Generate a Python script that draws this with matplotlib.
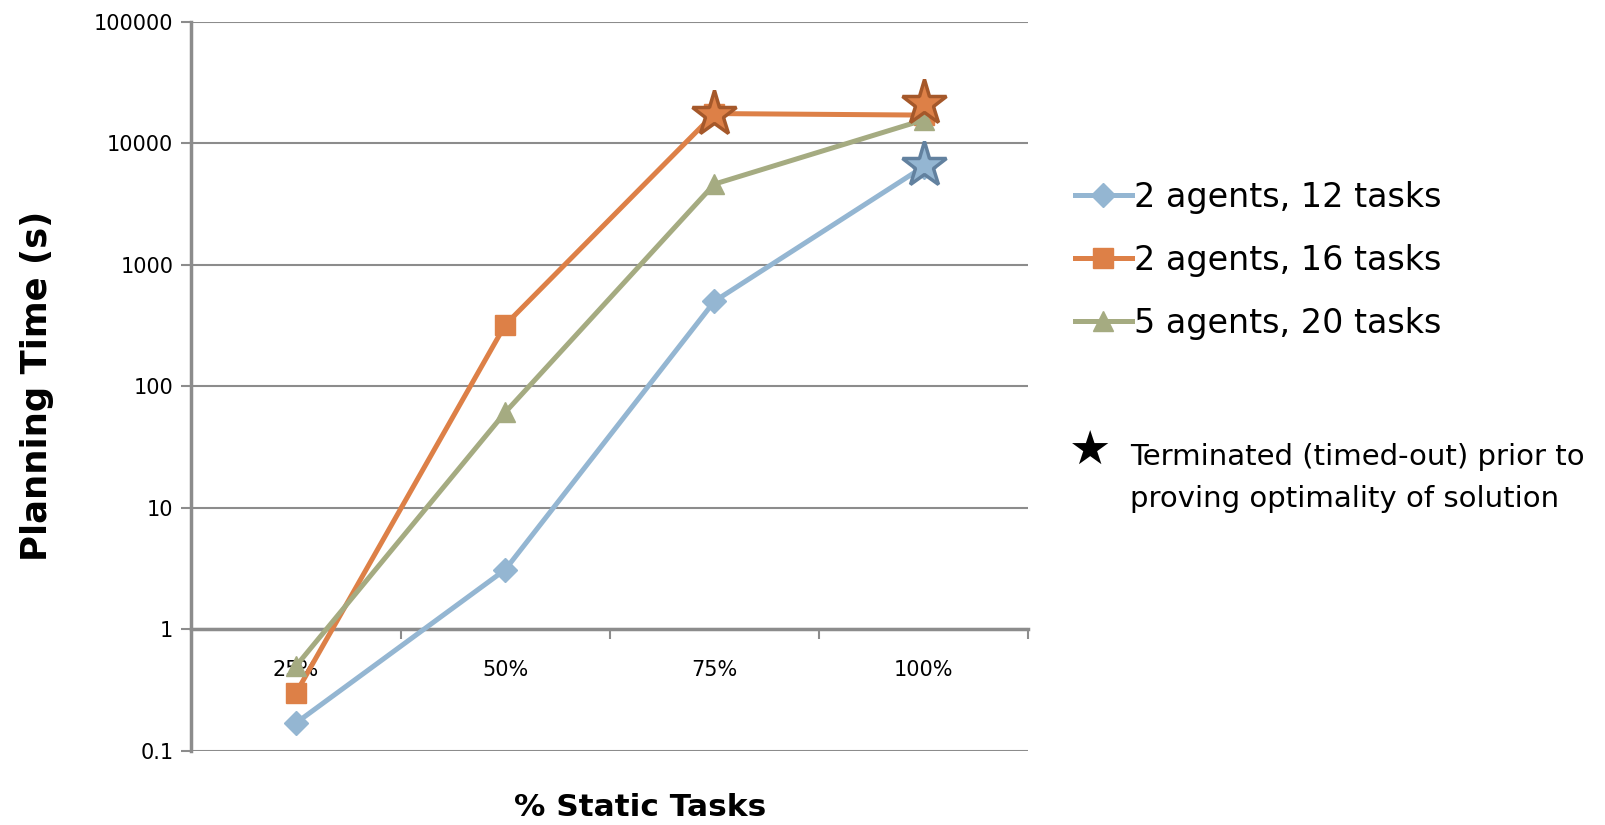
import matplotlib
matplotlib.use('Agg')
import matplotlib.pyplot as plt
from matplotlib.ticker import FixedLocator, NullLocator, FixedFormatter

# data
categories = ['25%', '50%', '75%', '100%']
agents2_tasks12 = [0.17, 3.1, 500, 6400]
agents2_tasks16 = [0.3, 320, 17500, 17000]
agents5_tasks20 = [0.5, 61, 4600, 15500]

# timed-out runs (marked with stars)
star_blue_x = [3]
star_blue_y = [6600]
star_orange_x = [2, 3]
star_orange_y = [17500, 21500]

yticks = [0.1, 1, 10, 100, 1000, 10000, 100000]
ytick_labels = ['0.1', '1', '10', '100', '1000', '10000', '100000']

plt.rcParams['font.family'] = ['DejaVu Sans']

grey = '#8c8c8c'
blue = '#94B6D2'
orange = '#DD8047'
green = '#A5AB81'

fig = plt.figure(figsize=(16.06, 8.25), dpi=100)
ax = fig.add_axes([0.1192, 0.0897, 0.521, 0.8842])

x = list(range(len(categories)))
ax.plot(x, agents2_tasks12, color=blue, lw=3.6, marker='D', ms=12, zorder=5, label='2 agents, 12 tasks')
ax.plot(x, agents2_tasks16, color=orange, lw=3.6, marker='s', ms=14, zorder=5, label='2 agents, 16 tasks')
ax.plot(x, agents5_tasks20, color=green, lw=3.6, marker='^', ms=14, zorder=5, label='5 agents, 20 tasks')

ax.plot(star_blue_x, star_blue_y, ls='none', marker='*', ms=34, color=blue,
        mec='#62819F', mew=2.5, zorder=6)
ax.plot(star_orange_x, star_orange_y, ls='none', marker='*', ms=34, color=orange,
        mec='#A5582A', mew=2.5, zorder=6)

ax.set_yscale('log')
ax.set_ylim(0.1, 100000)
ax.set_xlim(-0.5, 3.5)
ax.yaxis.set_major_locator(FixedLocator(yticks))
ax.yaxis.set_major_formatter(FixedFormatter(ytick_labels))
ax.yaxis.set_minor_locator(NullLocator())
ax.grid(axis='y', color=grey, lw=1.5, zorder=0)
ax.set_axisbelow(True)

for s in ['top', 'right']:
    ax.spines[s].set_visible(False)
ax.spines['left'].set_color(grey)
ax.spines['left'].set_linewidth(2.5)
ax.spines['bottom'].set_position(('data', 1))
ax.spines['bottom'].set_color(grey)
ax.spines['bottom'].set_linewidth(2.5)

ax.set_xticks(x)
ax.set_xticklabels(categories)
ax.set_xticks([0.5, 1.5, 2.5, 3.5], minor=True)
ax.tick_params(axis='x', which='major', length=0, pad=22, labelsize=15)
ax.tick_params(axis='x', which='minor', length=7, width=1.5, color=grey, direction='out')
ax.tick_params(axis='y', which='major', length=7, width=1.5, color=grey, labelsize=15, pad=6)

ax.set_ylabel('Planning Time (s)', fontsize=25.5, fontweight='bold', va='center')
ax.yaxis.set_label_coords(-0.184, 0.5)
ax.set_xlabel('% Static Tasks', fontsize=22.5, fontweight='bold', va='center')
ax.xaxis.set_label_coords(0.536, -0.077)

leg = ax.legend(loc='upper left', bbox_to_anchor=(1.04, 0.80), frameon=False,
                fontsize=24, handlelength=1.7, handletextpad=0.08, labelspacing=0.9,
                borderaxespad=0)

fig.text(0.679, 0.452, '\u2605', fontsize=34, va='center', ha='center')
fig.text(0.7035, 0.4206, 'Terminated (timed-out) prior to\nproving optimality of solution',
         fontsize=21, va='center', ha='left', linespacing=1.65)

fig.savefig('out.png', dpi=100)
